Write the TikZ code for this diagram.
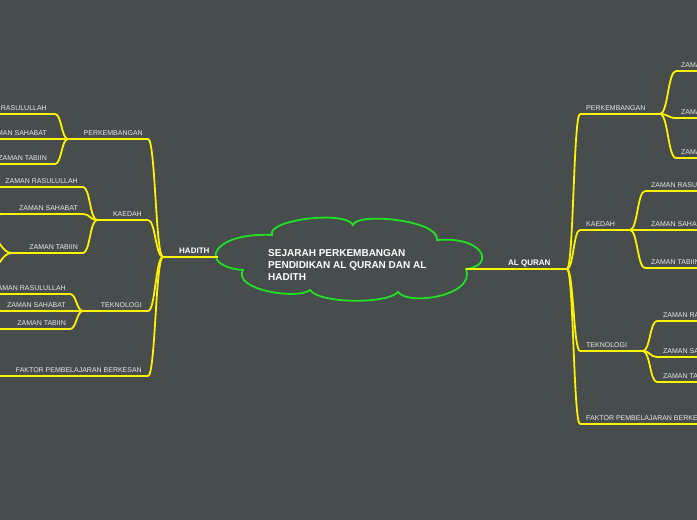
\documentclass[tikz,border=0pt]{standalone}
\usepackage{fontspec}
\setmainfont{Liberation Sans}
\usetikzlibrary{calc}
\definecolor{bg}{HTML}{474D4D}
\definecolor{yel}{HTML}{FFF200}
\definecolor{grn}{HTML}{22E022}
\definecolor{txt}{HTML}{E8E8E8}
\newcommand\lnk[2]{\draw[link] let \p1=(#1), \p2=(#2) in (#1) .. controls ({(\x1+\x2)/2},\y1) and ({(\x1+\x2)/2},\y2) .. (#2);}
\begin{document}
\begin{tikzpicture}[x=1pt,y=-1pt,
  link/.style={draw=yel,line width=1.8pt,line cap=round},
  uline/.style={draw=yel,line width=1.8pt},
  lab/.style={text=txt,font=\fontsize{7}{8}\selectfont,inner sep=0pt},
  labl/.style={lab,anchor=base east},
  labr/.style={lab,anchor=base west},
  mainlab/.style={text=white,font=\bfseries\fontsize{8}{9}\selectfont,inner sep=0pt,anchor=base west},
  cloudline/.style={draw=grn,line width=1.8pt}]
\useasboundingbox (0,0) rectangle (697,520);
\fill[bg] (0,0) rectangle (697,520);
\clip (0,0) rectangle (697,520);

% ---------- central cloud ----------
\draw[cloudline] (272,235) .. controls (266,220) and (345,210) .. (353,225)
  .. controls (356,212) and (440,220) .. (437,240)
  .. controls (485,236) and (495,266) .. (466,269)
  .. controls (476,296) and (408,306) .. (398,292)
  .. controls (388,304) and (320,304) .. (310,290)
  .. controls (298,300) and (232,290) .. (243,270)
  .. controls (196,266) and (212,232) .. cycle;
\node[text=white,font=\bfseries\fontsize{10}{12}\selectfont,align=left,anchor=west,inner sep=0pt]
  (root) at (268,265.5) {SEJARAH PERKEMBANGAN\\PENDIDIKAN AL QURAN DAN AL\\HADITH};

% ---------- HADITH (left) ----------
\coordinate (H) at (163,257);
\coordinate (Hc) at (218,257);
\draw[uline] (H) -- (Hc);
\node[mainlab] (hadith) at (179,253.8) {HADITH};

% level 1
\coordinate (hpL) at (68,139);  \coordinate (hpR) at (148,139);
\coordinate (hkL) at (97,220);  \coordinate (hkR) at (148,220);
\coordinate (htL) at (83,311);  \coordinate (htR) at (148,311);
\coordinate (hfL) at (-5,376);  \coordinate (hfR) at (148,376);
\foreach \k in {hp,hk,ht,hf}{\draw[uline] (\k L) -- (\k R); \lnk{H}{\k R}}
\node[labl] (hpT) at (143,135.5) {PERKEMBANGAN};
\node[labl] (hkT) at (142,216.5) {KAEDAH};
\node[labl] (htT) at (142,307.5) {TEKNOLOGI};
\node[labl] (hfT) at (142,372.5) {FAKTOR PEMBELAJARAN BERKESAN};

% PERKEMBANGAN children
\coordinate (hp1L) at (-5,114); \coordinate (hp1R) at (55,114);
\coordinate (hp2L) at (-5,139); \coordinate (hp2R) at (55,139);
\coordinate (hp3L) at (-5,164); \coordinate (hp3R) at (55,164);
\foreach \k in {hp1,hp2,hp3}{\draw[uline] (\k L) -- (\k R); \lnk{hpL}{\k R}}
\node[labl] (hp1T) at (47,110.5) {ZAMAN RASULULLAH};
\node[labl] (hp2T) at (47,135.5) {ZAMAN SAHABAT};
\node[labl] (hp3T) at (47,160.5) {ZAMAN TABIIN};

% KAEDAH children
\coordinate (hk1L) at (-5,187); \coordinate (hk1R) at (83,187);
\coordinate (hk2L) at (2,214);  \coordinate (hk2R) at (83,214);
\coordinate (hk3L) at (12,253); \coordinate (hk3R) at (83,253);
\foreach \k in {hk1,hk2,hk3}{\draw[uline] (\k L) -- (\k R); \lnk{hkL}{\k R}}
\node[labl] (hk1T) at (78,183.5) {ZAMAN RASULULLAH};
\node[labl] (hk2T) at (78,210.5) {ZAMAN SAHABAT};
\node[labl] (hk3T) at (78,249.5) {ZAMAN TABIIN};
% stubs of further branches beyond the left edge
\coordinate (hk2a) at (-14,206); \coordinate (hk2b) at (-14,222);
\coordinate (hk3a) at (-10,238); \coordinate (hk3b) at (-10,268);
\lnk{hk2L}{hk2a} \lnk{hk2L}{hk2b}
\lnk{hk3L}{hk3a} \lnk{hk3L}{hk3b}

% TEKNOLOGI children
\coordinate (ht1L) at (-5,294); \coordinate (ht1R) at (70,294);
\coordinate (ht2L) at (-5,311); \coordinate (ht2R) at (70,311);
\coordinate (ht3L) at (-5,329); \coordinate (ht3R) at (70,329);
\foreach \k in {ht1,ht2,ht3}{\draw[uline] (\k L) -- (\k R); \lnk{htL}{\k R}}
\node[labl] (ht1T) at (66,290.5) {ZAMAN RASULULLAH};
\node[labl] (ht2T) at (66,307.5) {ZAMAN SAHABAT};
\node[labl] (ht3T) at (66,325.5) {ZAMAN TABIIN};

% ---------- AL QURAN (right) ----------
\coordinate (Q) at (567,269);
\coordinate (Qc) at (466,269);
\draw[uline] (Qc) -- (Q);
\node[mainlab] (quran) at (508,265) {AL QURAN};

\coordinate (qpL) at (580,114); \coordinate (qpR) at (660,114);
\coordinate (qkL) at (580,230); \coordinate (qkR) at (630,230);
\coordinate (qtL) at (580,351); \coordinate (qtR) at (643,351);
\coordinate (qfL) at (580,424); \coordinate (qfR) at (705,424);
\foreach \k in {qp,qk,qt,qf}{\draw[uline] (\k L) -- (\k R); \lnk{Q}{\k L}}
\node[labr] (qpT) at (586,110.5) {PERKEMBANGAN};
\node[labr] (qkT) at (586,226.5) {KAEDAH};
\node[labr] (qtT) at (586,347.5) {TEKNOLOGI};
\node[labr] (qfT) at (586,420.5) {FAKTOR PEMBELAJARAN BERKESAN};

% PERKEMBANGAN children
\coordinate (qp1L) at (676,71);  \coordinate (qp1R) at (705,71);
\coordinate (qp2L) at (676,118); \coordinate (qp2R) at (705,118);
\coordinate (qp3L) at (676,158); \coordinate (qp3R) at (705,158);
\foreach \k in {qp1,qp2,qp3}{\draw[uline] (\k L) -- (\k R); \lnk{qpR}{\k L}}
\node[labr] (qp1T) at (681,67.5) {ZAMAN RASULULLAH};
\node[labr] (qp2T) at (681,114.5) {ZAMAN SAHABAT};
\node[labr] (qp3T) at (681,154.5) {ZAMAN TABIIN};

% KAEDAH children
\coordinate (qk1L) at (645,191); \coordinate (qk1R) at (705,191);
\coordinate (qk2L) at (645,230); \coordinate (qk2R) at (705,230);
\coordinate (qk3L) at (645,268); \coordinate (qk3R) at (705,268);
\foreach \k in {qk1,qk2,qk3}{\draw[uline] (\k L) -- (\k R); \lnk{qkR}{\k L}}
\node[labr] (qk1T) at (651,187.5) {ZAMAN RASULULLAH};
\node[labr] (qk2T) at (651,226.5) {ZAMAN SAHABAT};
\node[labr] (qk3T) at (651,264.5) {ZAMAN TABIIN};

% TEKNOLOGI children
\coordinate (qt1L) at (657,321); \coordinate (qt1R) at (705,321);
\coordinate (qt2L) at (657,357); \coordinate (qt2R) at (705,357);
\coordinate (qt3L) at (657,382); \coordinate (qt3R) at (705,382);
\foreach \k in {qt1,qt2,qt3}{\draw[uline] (\k L) -- (\k R); \lnk{qtR}{\k L}}
\node[labr] (qt1T) at (663,317.5) {ZAMAN RASULULLAH};
\node[labr] (qt2T) at (663,353.5) {ZAMAN SAHABAT};
\node[labr] (qt3T) at (663,378.5) {ZAMAN TABIIN};
\end{tikzpicture}
\end{document}
